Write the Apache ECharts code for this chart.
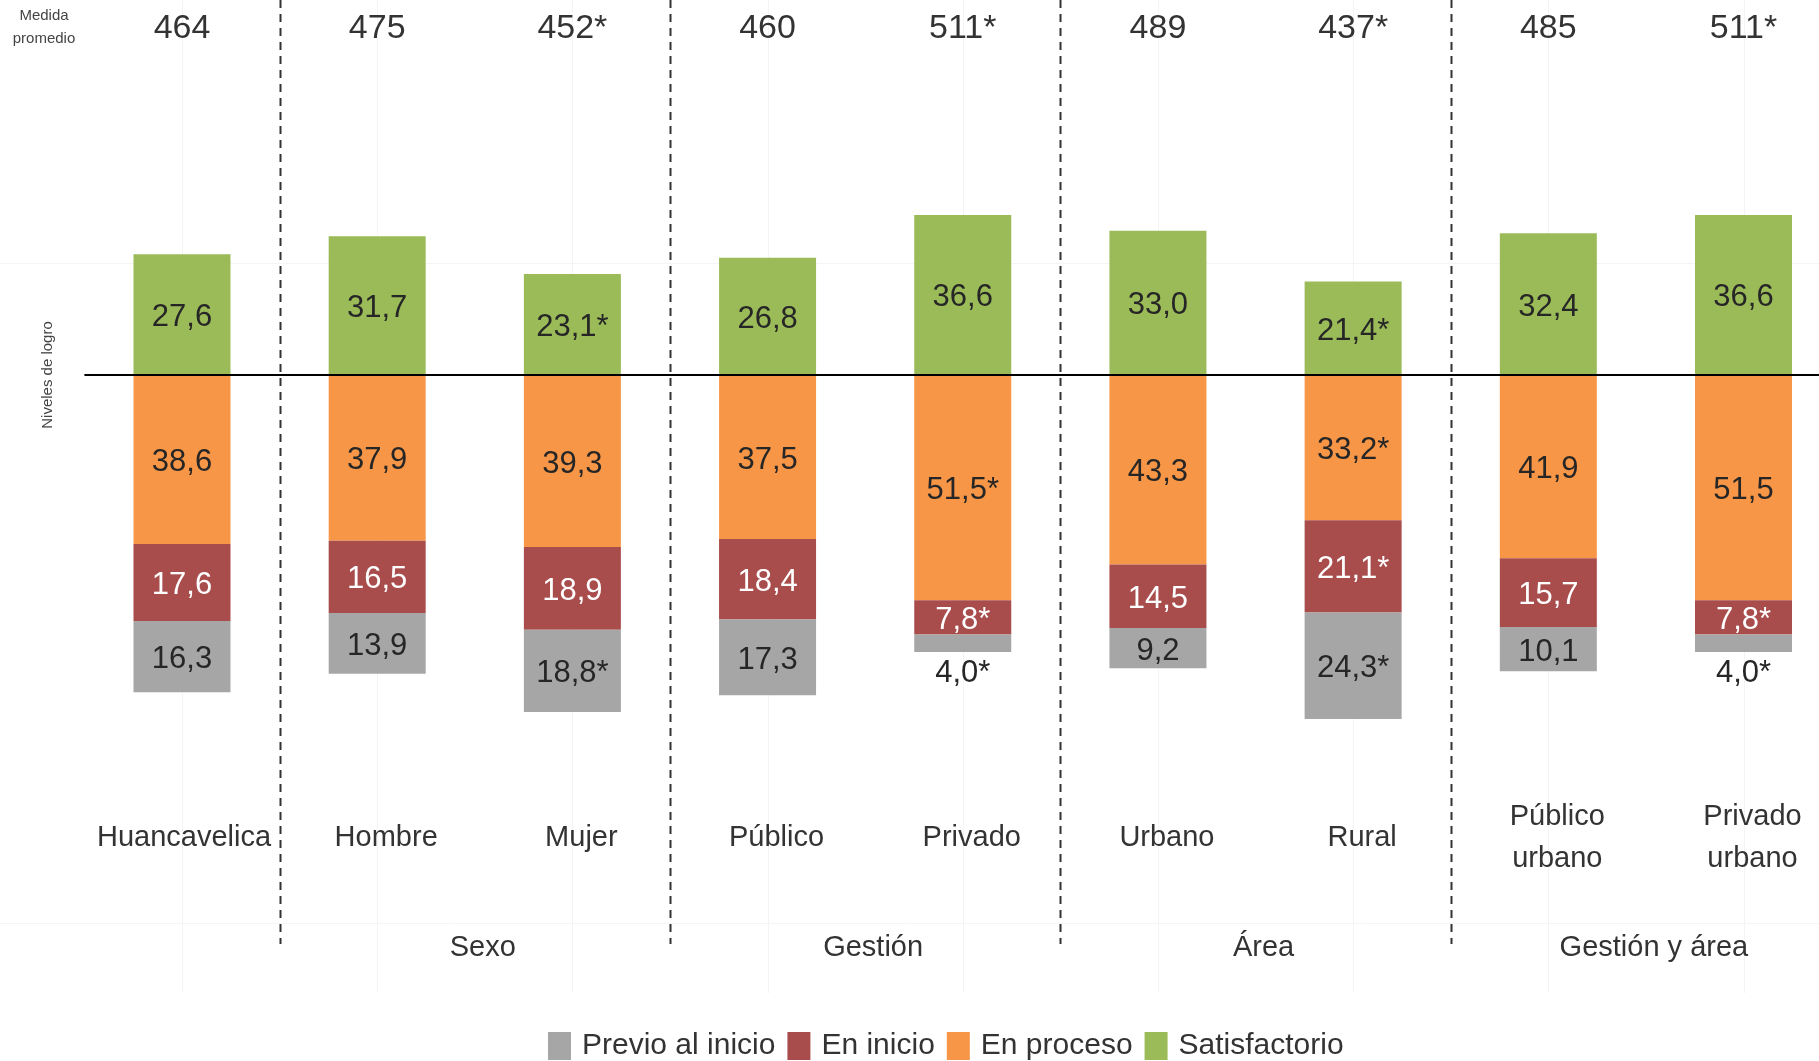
<!DOCTYPE html>
<html>
<head>
<meta charset="utf-8">
<script src="https://cdn.jsdelivr.net/npm/echarts@6/dist/echarts.min.js"></script>
<style>
  html, body { margin: 0; padding: 0; background: #fff; }
  #chart { width: 1819px; height: 1061px; }
</style>
</head>
<body>
<div id="chart"></div>
<script>
// categorias y datos (porcentajes por nivel de logro)
const categorias = ['Huancavelica', 'Hombre', 'Mujer', 'Público', 'Privado', 'Urbano', 'Rural', 'Público\nurbano', 'Privado\nurbano'];
const medidaPromedio = ['464', '475', '452*', '460', '511*', '489', '437*', '485', '511*'];
const grupos = ['Sexo', 'Gestión', 'Área', 'Gestión y área'];

const satisfactorio = [27.6, 31.7, 23.1, 26.8, 36.6, 33.0, 21.4, 32.4, 36.6];
const satisfactorioSig = [0, 0, 1, 0, 0, 0, 1, 0, 0];
const enProceso = [38.6, 37.9, 39.3, 37.5, 51.5, 43.3, 33.2, 41.9, 51.5];
const enProcesoSig = [0, 0, 0, 0, 1, 0, 1, 0, 0];
const enInicio = [17.6, 16.5, 18.9, 18.4, 7.8, 14.5, 21.1, 15.7, 7.8];
const enInicioSig = [0, 0, 0, 0, 1, 0, 1, 0, 1];
const previoInicio = [16.3, 13.9, 18.8, 17.3, 4.0, 9.2, 24.3, 10.1, 4.0];
const previoInicioSig = [0, 0, 1, 0, 1, 0, 1, 0, 1];

const FONT = 'Liberation Sans, Arial, sans-serif';
const TXT = '#262626';

// etiqueta con coma decimal y asterisco si es significativo
function fmt(v, sig) {
  return Math.abs(v).toFixed(1).replace('.', ',') + (sig ? '*' : '');
}

// arma los datos de una serie; las negativas van hacia abajo
function buildData(values, sigs, negative) {
  return values.map((v, i) => {
    const item = { value: negative ? -v : v, lbl: fmt(v, sigs[i]) };
    if (v < 6) {
      // barra muy chica: etiqueta fuera, debajo
      item.label = { position: 'bottom', distance: 6, color: TXT, offset: [0, 0] };
    }
    return item;
  });
}

function barSeries(name, values, sigs, negative, color, labelColor) {
  return {
    name: name,
    type: 'bar',
    stack: 'total',
    barWidth: 97,
    itemStyle: { color: color },
    data: buildData(values, sigs, negative),
    label: {
      show: true,
      position: 'inside',
      offset: [0, 3],
      color: labelColor,
      fontSize: 31,
      fontFamily: FONT,
      formatter: (p) => p.data.lbl,
    },
  };
}

const chart = echarts.init(document.getElementById('chart'));

const series = [
  barSeries('Satisfactorio', satisfactorio, satisfactorioSig, false, '#9bbb59', TXT),
  barSeries('En proceso', enProceso, enProcesoSig, true, '#f79646', TXT),
  barSeries('En inicio', enInicio, enInicioSig, true, '#a84c4c', '#fff'),
  barSeries('Previo al inicio', previoInicio, previoInicioSig, true, '#a6a6a6', TXT),
];
// linea del cero
series[0].markLine = {
  silent: true,
  symbol: 'none',
  label: { show: false },
  lineStyle: { color: '#000', width: 2, type: 'solid' },
  data: [{ yAxis: 0 }],
};

const labelStyle = {
  verticalAlign: 'middle',
  padding: [0, 0, 0, 18],
  fontSize: 29,
  lineHeight: 42,
  color: '#333',
  fontFamily: FONT,
};
// la primera categoria queda casi centrada, el resto algo corrido a la derecha
const ejeCategorias = categorias.map((c, i) =>
  i === 0 ? { value: c, textStyle: Object.assign({}, labelStyle, { padding: [0, 0, 0, 4] }) } : c
);

const option = {
  animation: false,
  backgroundColor: '#fff',
  textStyle: { fontFamily: FONT },
  grid: {
    left: 84.4,
    width: 1756.7,
    top: 25,
    bottom: 336,
    containLabel: false,
    outerBoundsMode: 'none',
  },
  legend: {
    data: ['Previo al inicio', 'En inicio', 'En proceso', 'Satisfactorio'],
    left: 543,
    top: 1026,
    icon: 'rect',
    itemWidth: 23,
    itemHeight: 28,
    itemGap: 12,
    textStyle: { fontSize: 30, color: '#333', fontFamily: FONT, padding: [0, 0, 0, 6] },
  },
  xAxis: [
    {
      type: 'category',
      data: ejeCategorias,
      position: 'bottom',
      axisLine: { show: false, onZero: false },
      axisTick: { show: false },
      splitLine: { show: false },
      axisLabel: Object.assign({ interval: 0, margin: 113 }, labelStyle),
    },
    {
      type: 'category',
      data: medidaPromedio,
      position: 'top',
      axisLine: { show: false, onZero: false },
      axisTick: { show: false },
      axisLabel: {
        interval: 0,
        margin: -4,
        verticalAlign: 'middle',
        fontSize: 34,
        color: '#333',
        fontFamily: FONT,
      },
    },
  ],
  yAxis: {
    type: 'value',
    min: -80,
    max: 80,
    show: false,
  },
  series: series,
};

chart.setOption(option);

// separadores y titulos de grupo, ubicados con la escala del eje
const px = (i) => chart.convertToPixel({ xAxisIndex: 0 }, i);
const graphics = [];
// guias tenues de fondo
categorias.forEach((c, i) => {
  const x = Math.round(px(i)) + 0.5;
  graphics.push({
    type: 'line',
    silent: true,
    z: -10,
    shape: { x1: x, y1: 0, x2: x, y2: 993 },
    style: { stroke: '#f4f4f4', lineWidth: 1 },
  });
});
[263, 923].forEach((y) => {
  graphics.push({
    type: 'line',
    silent: true,
    z: -10,
    shape: { x1: 0, y1: y + 0.5, x2: 1819, y2: y + 0.5 },
    style: { stroke: '#f4f4f4', lineWidth: 1 },
  });
});
[0, 2, 4, 6].forEach((i) => {
  const x = Math.round((px(i) + px(i + 1)) / 2) + 0.5;
  graphics.push({
    type: 'line',
    silent: true,
    shape: { x1: x, y1: 0, x2: x, y2: 944 },
    style: { stroke: '#333', lineWidth: 2, lineDash: [8, 6] },
  });
});
[1, 3, 5, 7].forEach((i, k) => {
  graphics.push({
    type: 'text',
    silent: true,
    x: (px(i) + px(i + 1)) / 2 + 8,
    y: 948,
    style: {
      text: grupos[k],
      fontSize: 29,
      fontFamily: FONT,
      fill: '#333',
      align: 'center',
      verticalAlign: 'middle',
    },
  });
});
graphics.push({
  type: 'text',
  silent: true,
  x: 44,
  y: 27,
  style: {
    text: 'Medida\npromedio',
    fontSize: 15,
    lineHeight: 23,
    fontFamily: FONT,
    fill: '#444',
    align: 'center',
    verticalAlign: 'middle',
  },
});
graphics.push({
  type: 'text',
  silent: true,
  x: 48,
  y: 375,
  rotation: Math.PI / 2,
  style: {
    text: 'Niveles de logro',
    fontSize: 15,
    fontFamily: FONT,
    fill: '#444',
    align: 'center',
    verticalAlign: 'middle',
  },
});
chart.setOption({ graphic: graphics });
</script>
</body>
</html>
